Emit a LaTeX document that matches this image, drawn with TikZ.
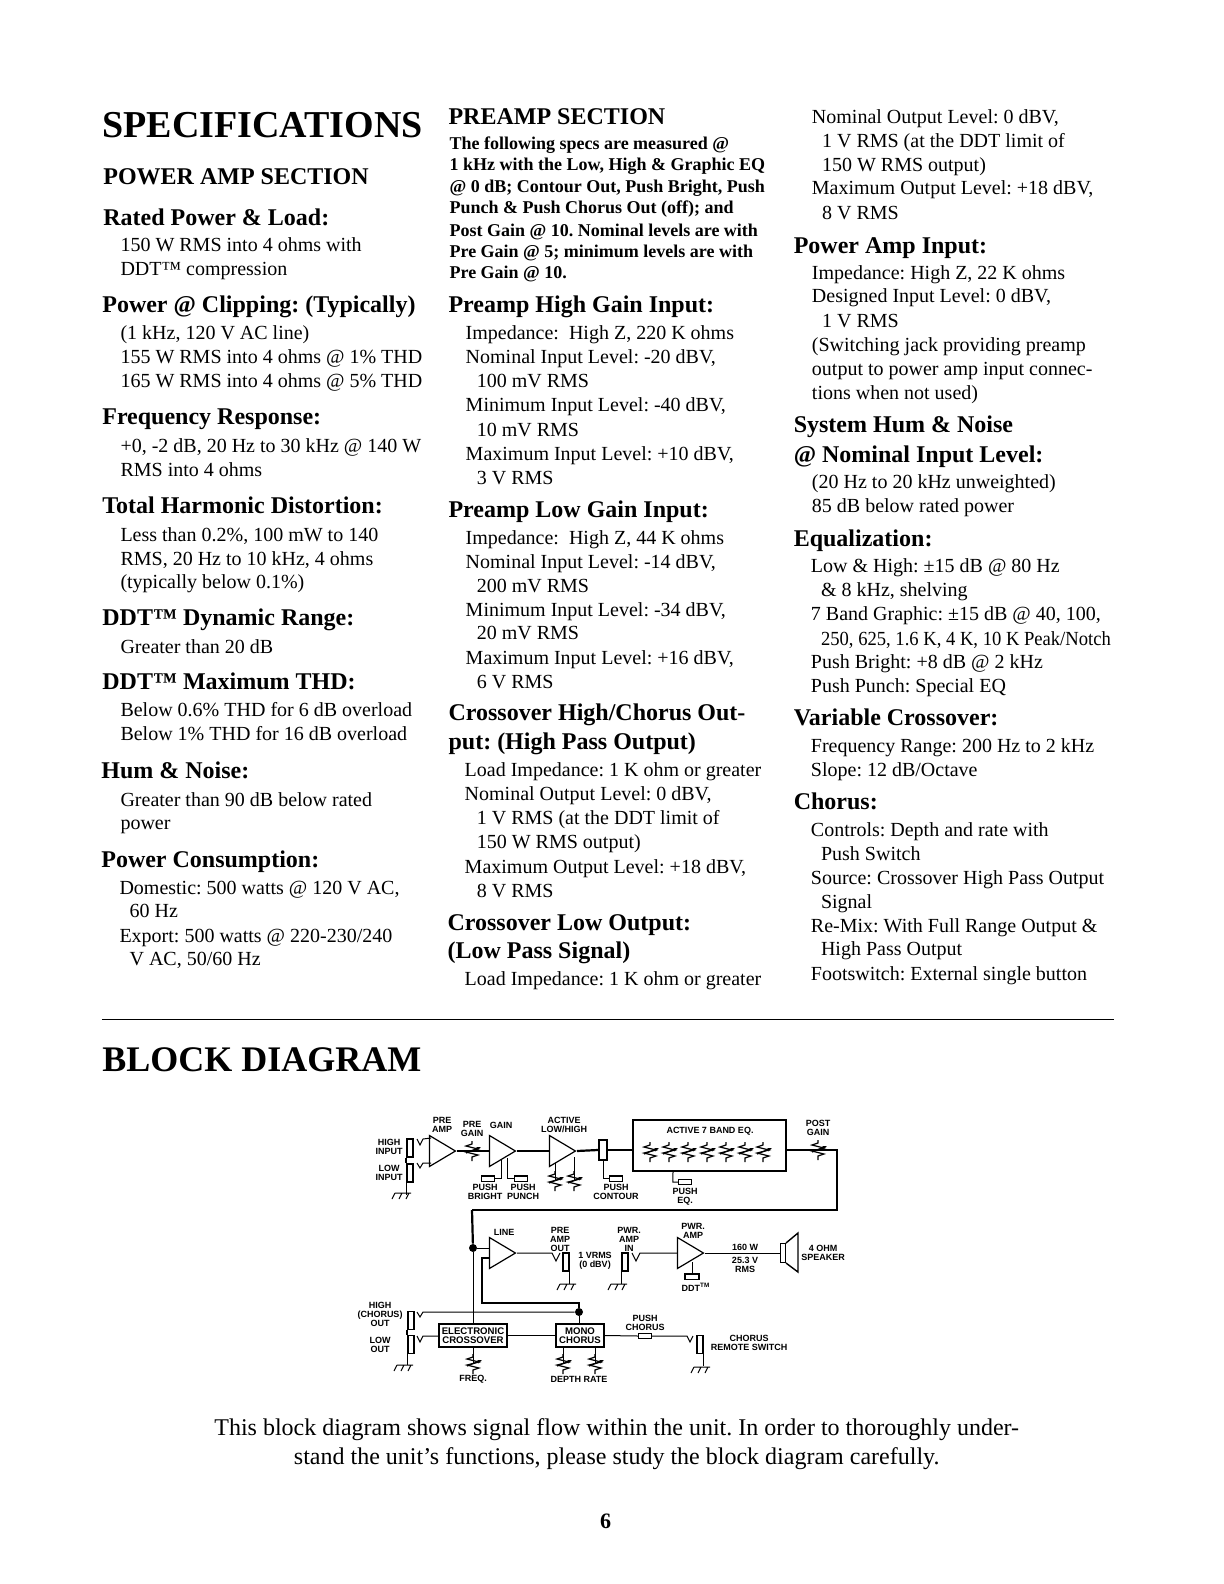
\documentclass[tikz,border=0pt]{standalone}
\usepackage{fontspec}
\setmainfont{Liberation Serif}
\newfontfamily\diagfont{Liberation Sans}
\usetikzlibrary{shapes.geometric,arrows.meta}
\tikzset{
    bodytext/.style={anchor=base west, inner sep=0pt, font=\fontsize{10}{12}\selectfont},
    boldtext/.style={anchor=base west, inner sep=0pt, yshift=0.5pt, font=\fontsize{9}{11}\selectfont\bfseries},
    headtext/.style={anchor=base west, inner sep=0pt, yshift=0.5pt, font=\fontsize{12}{14}\selectfont\bfseries},
    sectext/.style={anchor=base west, inner sep=0pt, yshift=0.8pt, font=\fontsize{12}{14}\selectfont\bfseries},
    titletext/.style={anchor=base west, inner sep=0pt, yshift=0.5pt, font=\fontsize{19}{21}\selectfont\bfseries},
    blocktext/.style={anchor=base west, inner sep=0pt, yshift=0.5pt, font=\fontsize{18}{20}\selectfont\bfseries},
    captext/.style={anchor=base, inner sep=0pt, font=\fontsize{12}{14}\selectfont},
    dlabel/.style={inner sep=0pt, align=center, font=\diagfont\fontsize{4.5}{4.5}\selectfont\bfseries},
    amp/.style={draw, line width=0.6pt, isosceles triangle, isosceles triangle stretches, shape border rotate=0,
        minimum width=15.5pt, minimum height=13pt, inner sep=0pt, anchor=apex, fill=white},
    jack/.style={draw, line width=0.7pt, minimum width=3pt, minimum height=9pt, inner sep=0pt},
    pushbox/.style={draw, line width=0.6pt, minimum width=6.5pt, minimum height=2.6pt, inner sep=0pt, fill=white},
    blockbox/.style={draw, line width=1pt, inner sep=0pt, fill=white},
    sig/.style={line width=0.5pt},
    heavy/.style={line width=1.1pt},
    pot/.pic={
        \draw[line width=0.6pt] (0,-10) -- (0,-7) -- (-6,-5) -- (6,-2) -- (-6,1) -- (6,4) -- (0,6) -- (0,10);
        \draw[line width=0.6pt, -{Stealth[length=2.4pt,width=1.8pt]}] (-6,2) -- (9,-4);
    },
    ground/.pic={
        \draw[line width=0.5pt] (-6,0) -- (10,0) (-6,0) -- (-9,6) (1,0) -- (-2,6) (8,0) -- (5,6);
    }
}

\begin{document}
\frenchspacing
\begin{tikzpicture}[x=0.5pt, y=-0.5pt]
    \useasboundingbox (0,0) rectangle (1224,1584);

    \begin{scope}[x=0.5047pt, y=-0.5047pt, yshift=-0.5pt]
    % first column
    \node[titletext] (spec) at (101,136) {SPECIFICATIONS};
    \node[sectext] (powersec) at (102,183) {POWER AMP SECTION};
    \node[headtext] (a1) at (102,223) {Rated Power \& Load:};
    \node[bodytext] (a2) at (119,248) {150 W RMS into 4 ohms with};
    \node[bodytext] (a3) at (119,272) {DDT™ compression};
    \node[headtext] (a4) at (101,310) {Power @ Clipping:\ (Typically)};
    \node[bodytext] (a5) at (119,335) {(1 kHz, 120 V AC line)};
    \node[bodytext] (a6) at (119,359) {155 W RMS into 4 ohms @ 1\% THD};
    \node[bodytext] (a7) at (119,383) {165 W RMS into 4 ohms @ 5\% THD};
    \node[headtext] (a8) at (101,421) {Frequency Response:};
    \node[bodytext] (a9) at (119,447) {+0, -2 dB, 20 Hz to 30 kHz @ 140 W};
    \node[bodytext] (a10) at (119,471) {RMS into 4 ohms};
    \node[headtext] (a11) at (101,509) {Total Harmonic Distortion:};
    \node[bodytext] (a12) at (119,535) {Less than 0.2\%, 100 mW to 140};
    \node[bodytext] (a13) at (119,559) {RMS, 20 Hz to 10 kHz, 4 ohms};
    \node[bodytext] (a14) at (119,582) {(typically below 0.1\%)};
    \node[headtext] (a15) at (101,620) {DDT™ Dynamic Range:};
    \node[bodytext] (a16) at (119,646) {Greater than 20 dB};
    \node[headtext] (a17) at (101,683) {DDT™ Maximum THD:};
    \node[bodytext] (a18) at (119,709) {Below 0.6\% THD for 6 dB overload};
    \node[bodytext] (a19) at (119,733) {Below 1\% THD for 16 dB overload};
    \node[headtext] (a20) at (100,771) {Hum \& Noise:};
    \node[bodytext] (a21) at (119,798) {Greater than 90 dB below rated};
    \node[bodytext] (a22) at (119,821) {power};
    \node[headtext] (a23) at (100,859) {Power Consumption:};
    \node[bodytext] (a24) at (118,885) {Domestic: 500 watts @ 120 V AC,};
    \node[bodytext] (a25) at (128,908) {60 Hz};
    \node[bodytext] (a26) at (118,933) {Export: 500 watts @ 220-230/240};
    \node[bodytext] (a27) at (128,956) {V AC, 50/60 Hz};

    % second column
    \node[sectext] (presec) at (444,124) {PREAMP SECTION};
    \node[boldtext] (b1) at (445,148) {The following specs are measured @};
    \node[boldtext] (b2) at (445,169) {1 kHz with the Low, High \& Graphic EQ};
    \node[boldtext] (b3) at (445,191) {@ 0 dB; Contour Out, Push Bright, Push};
    \node[boldtext] (b4) at (445,212) {Punch \& Push Chorus Out (off); and};
    \node[boldtext] (b5) at (445,234) {Post Gain @ 10. Nominal levels are with};
    \node[boldtext] (b6) at (445,255) {Pre Gain @ 5; minimum levels are with};
    \node[boldtext] (b7) at (445,276) {Pre Gain @ 10.};
    \node[headtext] (b8) at (444,310) {Preamp High Gain Input:};
    \node[bodytext] (b9) at (461,335) {Impedance:\ \ High Z, 220 K ohms};
    \node[bodytext] (b10) at (461,359) {Nominal Input Level: -20 dBV,};
    \node[bodytext] (b11) at (472,383) {100 mV RMS};
    \node[bodytext] (b12) at (461,407) {Minimum Input Level: -40 dBV,};
    \node[bodytext] (b13) at (472,431) {10 mV RMS};
    \node[bodytext] (b14) at (461,455) {Maximum Input Level: +10 dBV,};
    \node[bodytext] (b15) at (472,479) {3 V RMS};
    \node[headtext] (b16) at (444,513) {Preamp Low Gain Input:};
    \node[bodytext] (b17) at (461,538) {Impedance:\ \ High Z, 44 K ohms};
    \node[bodytext] (b18) at (461,562) {Nominal Input Level: -14 dBV,};
    \node[bodytext] (b19) at (472,586) {200 mV RMS};
    \node[bodytext] (b20) at (461,610) {Minimum Input Level: -34 dBV,};
    \node[bodytext] (b21) at (472,633) {20 mV RMS};
    \node[bodytext] (b22) at (461,657) {Maximum Input Level: +16 dBV,};
    \node[bodytext] (b23) at (472,681) {6 V RMS};
    \node[headtext] (b24) at (444,714) {Crossover High/Chorus Out-};
    \node[headtext] (b25) at (444,743) {put: (High Pass Output)};
    \node[bodytext] (b26) at (460,768) {Load Impedance: 1 K ohm or greater};
    \node[bodytext] (b27) at (460,792) {Nominal Output Level: 0 dBV,};
    \node[bodytext] (b28) at (472,816) {1 V RMS (at the DDT limit of};
    \node[bodytext] (b29) at (472,840) {150 W RMS output)};
    \node[bodytext] (b30) at (460,864) {Maximum Output Level: +18 dBV,};
    \node[bodytext] (b31) at (472,888) {8 V RMS};
    \node[headtext] (b32) at (443,922) {Crossover Low Output:};
    \node[headtext] (b33) at (443,950) {(Low Pass Signal)};
    \node[bodytext] (b34) at (460,975) {Load Impedance: 1 K ohm or greater};

    % third column
    \node[bodytext] (c1) at (804,121) {Nominal Output Level: 0 dBV,};
    \node[bodytext] (c2) at (814,145) {1 V RMS (at the DDT limit of};
    \node[bodytext] (c3) at (814,169) {150 W RMS output)};
    \node[bodytext] (c4) at (804,192) {Maximum Output Level: +18 dBV,};
    \node[bodytext] (c5) at (814,216) {8 V RMS};
    \node[headtext] (c6) at (786,251) {Power Amp Input:};
    \node[bodytext] (c7) at (804,276) {Impedance: High Z, 22 K ohms};
    \node[bodytext] (c8) at (804,299) {Designed Input Level: 0 dBV,};
    \node[bodytext] (c9) at (814,323) {1 V RMS};
    \node[bodytext] (c10) at (804,347) {(Switching jack providing preamp};
    \node[bodytext] (c11) at (804,371) {output to power amp input connec-};
    \node[bodytext] (c12) at (804,395) {tions when not used)};
    \node[headtext] (c13) at (786,428) {System Hum \& Noise};
    \node[headtext] (c14) at (786,458) {@ Nominal Input Level:};
    \node[bodytext] (c15) at (804,483) {(20 Hz to 20 kHz unweighted)};
    \node[bodytext] (c16) at (804,507) {85 dB below rated power};
    \node[headtext] (c17) at (786,541) {Equalization:};
    \node[bodytext] (c18) at (803,566) {Low \& High: ±15 dB @ 80 Hz};
    \node[bodytext] (c19) at (813,590) {\& 8 kHz, shelving};
    \node[bodytext] (c20) at (803,614) {7 Band Graphic: ±15 dB @ 40, 100,};
    \node[bodytext] (c21) at (813,638) {\scalebox{0.93}[1]{250, 625, 1.6 K, 4 K, 10 K Peak/Notch}};
    \node[bodytext] (c22) at (803,661) {Push Bright: +8 dB @ 2 kHz};
    \node[bodytext] (c23) at (803,685) {Push Punch: Special EQ};
    \node[headtext] (c24) at (786,719) {Variable Crossover:};
    \node[bodytext] (c25) at (803,744) {Frequency Range: 200 Hz to 2 kHz};
    \node[bodytext] (c26) at (803,768) {Slope: 12 dB/Octave};
    \node[headtext] (c27) at (786,802) {Chorus:};
    \node[bodytext] (c28) at (803,828) {Controls: Depth and rate with};
    \node[bodytext] (c29) at (813,851) {Push Switch};
    \node[bodytext] (c30) at (803,875) {Source: Crossover High Pass Output};
    \node[bodytext] (c31) at (813,899) {Signal};
    \node[bodytext] (c32) at (803,923) {Re-Mix: With Full Range Output \&};
    \node[bodytext] (c33) at (813,946) {High Pass Output};
    \node[bodytext] (c34) at (803,970) {Footswitch: External single button};

    % bottom of the page
    \coordinate (ruleL) at (101,1009);
    \coordinate (ruleR) at (1104,1009);
    \draw[line width=0.9pt] (ruleL) -- (ruleR);
    \node[blocktext] (block) at (101,1062) {BLOCK DIAGRAM};
    \node[captext] (cap1) at (611,1421) {This block diagram shows signal flow within the unit. In order to thoroughly under-};
    \node[captext] (cap2) at (611,1450) {stand the unit's functions, please study the block diagram carefully.};
    \node[anchor=base, inner sep=0pt, font=\fontsize{11}{13}\selectfont\bfseries] (pageno) at (600,1513) {6};
    \end{scope}

    % top row
    \node[jack] (jhigh) at (410,1148) {};
    \node[jack] (jlow) at (410,1173) {};
    \node[amp] (preamp) at (457,1151) {};
    \node[amp] (gain) at (517,1151) {};
    \node[amp] (active) at (577,1151) {};
    \node[draw, heavy, minimum width=4pt, minimum height=10pt, inner sep=0pt] (contour) at (603,1150) {};
    \node[blockbox, minimum width=76.5pt, minimum height=25.5pt] (eqbox) at (709.5,1145.5) {};
    \node[pushbox] (pbright) at (488,1178.5) {};
    \node[pushbox] (ppunch) at (521,1178.5) {};
    \node[pushbox] (pcontour) at (616,1178.5) {};
    \node[pushbox] (peq) at (685,1182) {};
    \coordinate (vhigh) at (417,1139);
    \coordinate (vlow) at (417,1163);
    \coordinate (corner) at (837,1150);
    \coordinate (bend) at (837,1210);
    \coordinate (bus) at (472,1210);
    \coordinate (potlo) at (555,1181);
    \coordinate (pothi) at (574,1181);

    \draw[sig] (vhigh) -- ++(3,6) -- ++(3,-6) -- ++(8,-1);
    \draw[sig] (vlow) -- ++(3,5) -- ++(3,-5) -- ++(8,0);
    \draw[heavy] (jhigh.south west) -- (jlow.north west);
    \draw[sig] (jlow.south west) -- ++(0,12);
    \draw[heavy] (preamp.apex) -- (preamp.apex -| gain.lower side);
    \draw[heavy] (gain.apex) -- (gain.apex -| active.lower side);
    \draw[heavy] (active.apex) -- (contour.west);
    \draw[heavy] (contour.east) -- (contour.east -| eqbox.west);
    \draw[heavy] (eqbox.east |- corner) -- (corner) -- (bend) -- (bus);
    \draw[sig] (pbright.east) -- ++(6,0) -- ++(0,-19);
    \draw[sig] (ppunch.west) -- ++(-6,0) -- ++(0,-21);
    \draw[sig] (contour.south) -- (contour.south |- pcontour) -- (pcontour.west);
    \draw[sig] (peq.west) -- ++(-5,0) -- (eqbox.south -| 673,0);
    \draw[sig] (potlo) -- ++(0,-18);
    \draw[sig] (pothi) -- ++(0,-24);

    \pic at (401,1193) {ground};
    \pic at (472,1151) {pot};
    \pic at (potlo) {pot};
    \pic at (pothi) {pot};
    \pic at (650,1152) {pot};
    \pic at (669,1152) {pot};
    \pic at (688,1152) {pot};
    \pic at (707,1152) {pot};
    \pic at (726,1152) {pot};
    \pic at (745,1152) {pot};
    \pic at (763,1152) {pot};
    \pic at (818,1150) {pot};

    \node[dlabel] (lpreamp) at (442,1124.5) {PRE\\AMP};
    \node[dlabel] (lpregain) at (472,1129) {PRE\\GAIN};
    \node[dlabel] (lgain) at (501,1125) {GAIN};
    \node[dlabel] (lactive) at (564,1124.5) {ACTIVE\\LOW/HIGH};
    \node[dlabel] (lhigh) at (389,1146.5) {HIGH\\INPUT};
    \node[dlabel] (llow) at (389,1172.5) {LOW\\INPUT};
    \node[dlabel] (lbright) at (485,1191.5) {PUSH\\BRIGHT};
    \node[dlabel] (lpunch) at (523,1191.5) {PUSH\\PUNCH};
    \node[dlabel] (lcontour) at (616,1191.5) {PUSH\\CONTOUR};
    \node[dlabel] (leq) at (685,1196.5) {PUSH\\EQ.};
    \node[dlabel] (leqbox) at (710,1131) {ACTIVE 7 BAND EQ.};
    \node[dlabel] (lpost) at (818,1128) {POST\\GAIN};

    % middle row
    \node[amp] (line) at (517,1253) {};
    \node[amp] (pwramp) at (705,1253) {};
    \node[jack] (jpre) at (566,1262) {};
    \node[jack] (jpwr) at (625,1262) {};
    \node[pushbox, minimum width=7pt] (ddt) at (692,1276.5) {};
    \node[draw, sig, minimum width=2.5pt, minimum height=9.5pt, inner sep=0pt] (spk) at (783,1253) {};
    \node[circle, fill, inner sep=0pt, minimum size=4pt] (dotline) at (473,1248) {};
    \coordinate (vpre) at (552,1253);
    \coordinate (vpwr) at (640,1253);
    \coordinate (fbtop) at (482,1258);

    \draw[heavy] (bus) -- (dotline);
    \draw[sig] (dotline) -- (dotline -| line.lower side);
    \draw[sig] (line.apex) -- (vpre) -- ++(4,8) -- ++(4,-8);
    \draw[sig] (pwramp.lower side |- vpwr) -- (vpwr) -- ++(-4,8) -- ++(-4,-8);
    \draw[sig] (jpre.south east) -- ++(0,12);
    \draw[sig] (jpwr.south west) -- ++(0,12);
    \draw[sig] (pwramp.apex) -- (spk.west);
    \draw[sig] (ddt.north) -- ++(0,-11);
    \draw[line width=0.7pt] (spk.north east) -- ++(12,-10) -- ++(0,39) -- (spk.south east);

    \pic at (566,1284) {ground};
    \pic at (617,1284) {ground};

    \node[dlabel] (lline) at (504,1232) {LINE};
    \node[dlabel] (lpreout) at (560,1239) {PRE\\AMP\\OUT};
    \node[dlabel] (lvrms) at (595,1261) {1 VRMS\\(0 dBV)};
    \node[dlabel] (lpwrin) at (629,1239) {PWR.\\AMP\\IN};
    \node[dlabel] (lpwr) at (693,1231) {PWR.\\AMP};
    \node[dlabel] (lddt) at (696,1287) {DDT\textsuperscript{TM}};
    \node[dlabel] (lwatt) at (745,1247) {160 W};
    \node[dlabel] (lvolt) at (745,1265) {25.3 V\\RMS};
    \node[dlabel] (lspk) at (823,1252.5) {4 OHM\\SPEAKER};

    % bottom row
    \node[blockbox, minimum width=34pt, minimum height=11.5pt] (xover) at (473,1335.5) {};
    \node[blockbox, minimum width=24pt, minimum height=11.5pt] (chorus) at (580,1335.5) {};
    \node[pushbox] (pchorus) at (645,1336) {};
    \node[jack] (jhout) at (411,1320.5) {};
    \node[jack] (jlout) at (411,1344.5) {};
    \node[jack] (jrem) at (700,1344.5) {};
    \node[circle, fill, inner sep=0pt, minimum size=4pt] (dotmix) at (579,1312) {};
    \coordinate (vhout) at (417,1312);
    \coordinate (vlout) at (417,1336);
    \coordinate (vrem) at (687,1336);
    \coordinate (fbcorner) at (482,1303);
    \coordinate (potfreq) at (473,1364);
    \coordinate (potdepth) at (563,1364);
    \coordinate (potrate) at (595,1364);

    \draw[sig] (dotline) -- (dotline |- xover.north);
    \draw[heavy] (jhout.south west) -- (jlout.north west);
    \draw[heavy] (line.lower side |- fbtop) -- (fbtop) -- (fbcorner) -- (fbcorner -| dotmix) -- (dotmix);
    \draw[sig] (vhout) -- ++(3,5) -- ++(3,-5) -- (dotmix);
    \draw[sig] (vlout) -- ++(3,6) -- ++(3,-6) -- (xover.west |- vlout);
    \draw[sig] (dotmix) -- (chorus.north -| dotmix);
    \draw[sig] (xover.east) -- (chorus.west);
    \draw[sig] (chorus.east) -- (pchorus.west);
    \draw[sig] (pchorus.east) -- (vrem) -- ++(3,6) -- ++(3,-6);
    \draw[sig] (jlout.south west) -- ++(0,11);
    \draw[sig] (jrem.south east) -- ++(0,12);
    \draw[sig] (potfreq) -- (xover.south -| potfreq);
    \draw[sig] (potdepth) -- (chorus.south -| potdepth);
    \draw[sig] (potrate) -- (chorus.south -| potrate);

    \pic at (403,1365) {ground};
    \pic at (700,1367) {ground};
    \pic at (potfreq) {pot};
    \pic at (potdepth) {pot};
    \pic at (potrate) {pot};

    \node[dlabel] (lhout) at (380,1314.5) {HIGH\\(CHORUS)\\OUT};
    \node[dlabel] (llout) at (380,1344.5) {LOW\\OUT};
    \node[dlabel, font=\diagfont\fontsize{4.8}{4.6}\selectfont\bfseries] (lxover) at (473,1336) {ELECTRONIC\\CROSSOVER};
    \node[dlabel, font=\diagfont\fontsize{4.8}{4.6}\selectfont\bfseries] (lchorus) at (580,1336) {MONO\\CHORUS};
    \node[dlabel] (lpc) at (645,1322.5) {PUSH\\CHORUS};
    \node[dlabel] (lrem) at (749,1342.5) {CHORUS\\REMOTE SWITCH};
    \node[dlabel] (lfreq) at (473,1379) {FREQ.};
    \node[dlabel] (ldepth) at (579,1379) {DEPTH RATE};
\end{tikzpicture}
\end{document}
